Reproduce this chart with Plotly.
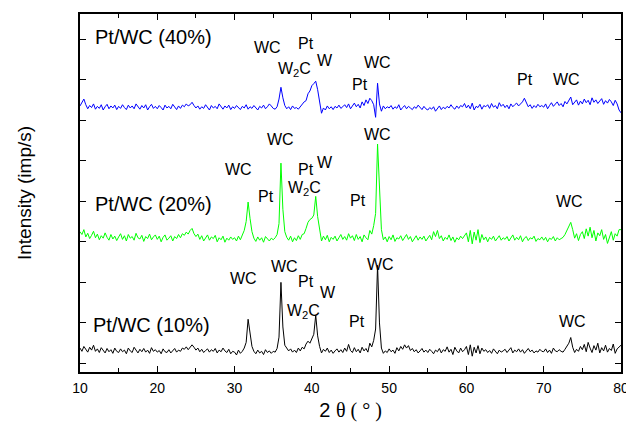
import numpy as np
import plotly.graph_objects as go

# 2-theta grid (degrees), 0.25 deg step
two_theta = np.round(np.arange(10.0, 80.001, 0.25), 2)

# Intensities (imp/s, stacked display)
pt_wc_10 = [
    138, 130, 142, 135, 128, 140, 133, 145, 130, 136, 127, 139, 131, 126, 137, 129, 134, 125, 138, 130,
    127, 136, 129, 133, 124, 138, 131, 127, 140, 132, 126, 135, 129, 137, 128, 133, 125, 139, 130, 134,
    128, 132, 124, 136, 129, 127, 134, 126, 131, 137, 128, 133, 130, 138, 135, 141, 134, 139, 146, 140,
    133, 138, 129, 135, 127, 132, 136, 128, 134, 130, 137, 126, 133, 129, 138, 131, 127, 135, 124, 130,
    128, 121, 133, 125, 130, 138, 152, 209, 168, 142, 130, 124, 133, 126, 130, 122, 134, 127, 131, 125,
    130, 128, 137, 165, 300, 190, 145, 138, 131, 136, 128, 133, 127, 138, 131, 140, 136, 148, 155, 150,
    163, 172, 219, 168, 142, 126, 135, 130, 138, 127, 133, 125, 131, 136, 128, 134, 127, 138, 130, 147,
    132, 127, 139, 129, 135, 126, 140, 131, 137, 128, 150, 141, 157, 185, 342, 200, 138, 125, 131, 127,
    136, 129, 133, 125, 139, 131, 142, 135, 146, 138, 144, 132, 137, 129, 134, 126, 131, 137, 128, 133,
    127, 135, 130, 124, 133, 129, 137, 126, 134, 130, 141, 128, 135, 122, 140, 131, 126, 138, 129, 134,
    142, 122, 146, 118, 140, 126, 144, 124, 138, 130, 134, 127, 132, 125, 136, 129, 124, 133, 128, 131,
    135, 127, 132, 139, 126, 133, 129, 136, 128, 134, 125, 131, 137, 129, 133, 126, 131, 128, 135, 130,
    129, 136, 127, 133, 125, 138, 131, 129, 134, 130, 128, 135, 142, 150, 164, 140, 127, 135, 130, 142,
    134, 147, 129, 152, 138, 127, 144, 133, 150, 126, 139, 131, 145, 128, 137, 132, 148, 125, 136, 141,
    145,
]

pt_wc_20 = [
    425, 418, 430, 412, 421, 408, 416, 426, 410, 419, 405, 415, 409, 422, 411, 404, 418, 407, 414, 403,
    412, 420, 406, 415, 402, 418, 409, 413, 404, 421, 410, 407, 416, 401, 413, 408, 419, 405, 412, 417,
    406, 414, 400, 411, 417, 404, 409, 415, 402, 413, 408, 418, 410, 420, 416, 424, 419, 428, 433, 420,
    413, 419, 406, 415, 402, 411, 417, 404, 412, 408, 416, 400, 410, 405, 414, 399, 409, 404, 412, 406,
    410, 402, 414, 405, 415, 428, 450, 498, 458, 425, 409, 401, 412, 404, 410, 399, 413, 406, 402, 409,
    405, 410, 418, 445, 594, 480, 425, 411, 404, 414, 400, 410, 403, 415, 406, 418, 420, 433, 448, 455,
    458, 466, 512, 462, 426, 402, 414, 405, 416, 400, 411, 406, 414, 402, 410, 418, 406, 413, 404, 420,
    409, 415, 403, 418, 406, 413, 400, 417, 410, 405, 428, 419, 440, 470, 641, 520, 430, 405, 412, 400,
    413, 405, 417, 401, 410, 407, 415, 403, 411, 418, 406, 413, 400, 409, 415, 404, 412, 406, 414, 402,
    410, 416, 405, 425, 413, 428, 408, 415, 402, 411, 406, 417, 403, 412, 399, 410, 405, 414, 408, 416,
    422, 400, 428, 395, 424, 404, 430, 398, 418, 405, 412, 400, 411, 406, 414, 402, 409, 415, 404, 410,
    406, 413, 402, 410, 417, 404, 411, 405, 415, 400, 409, 413, 403, 410, 407, 414, 401, 408, 405, 412,
    404, 411, 400, 409, 406, 413, 402, 410, 405, 408, 411, 418, 428, 440, 448, 430, 409, 420, 403, 418,
    425, 408, 432, 414, 436, 410, 428, 402, 422, 415, 430, 406, 418, 396, 412, 425, 404, 420, 414, 430,
    430,
]

pt_wc_40 = [
    735, 743, 752, 738, 728, 736, 731, 740, 727, 734, 729, 738, 725, 733, 739, 728, 735, 730, 737, 726,
    734, 729, 738, 731, 726, 737, 730, 735, 728, 740, 732, 727, 736, 730, 738, 725, 733, 739, 729, 734,
    728, 736, 731, 725, 737, 730, 734, 728, 739, 731, 726, 735, 729, 737, 733, 740, 735, 738, 744, 736,
    730, 735, 727, 733, 729, 738, 731, 725, 736, 730, 734, 728, 740, 732, 727, 735, 730, 737, 726, 733,
    729, 736, 731, 726, 734, 730, 738, 727, 733, 729, 736, 731, 725, 734, 730, 737, 728, 733, 740, 735,
    729, 727, 733, 752, 781, 755, 736, 728, 733, 726, 735, 729, 731, 727, 734, 738, 745, 748, 765, 772,
    785, 790, 796, 775, 750, 717, 730, 725, 735, 728, 733, 726, 734, 730, 737, 729, 733, 738, 731, 740,
    728, 735, 742, 733, 739, 730, 745, 736, 750, 741, 754, 748, 738, 707, 791, 740, 722, 735, 728, 733,
    730, 736, 727, 733, 729, 738, 725, 731, 736, 728, 734, 730, 726, 733, 729, 737, 731, 726, 734, 728,
    725, 731, 727, 733, 722, 729, 735, 726, 732, 728, 734, 730, 738, 731, 727, 735, 729, 736, 733, 741,
    730, 737, 728, 742, 725, 734, 731, 739, 727, 736, 733, 738, 729, 741, 732, 736, 728, 743, 734, 739,
    731, 737, 728, 740, 733, 738, 742, 735, 740, 745, 754, 741, 733, 738, 729, 736, 731, 739, 733, 736,
    732, 740, 728, 736, 743, 734, 739, 745, 736, 741, 733, 746, 740, 748, 757, 738, 744, 750, 737, 747,
    740, 752, 743, 749, 738, 755, 744, 750, 741, 746, 753, 739, 748, 742, 751, 745, 736, 749, 740, 725,
    718,
]

series_names = ["Pt/WC (10%)", "Pt/WC (20%)", "Pt/WC (40%)"]
series_colors = ["#000000", "#00FF00", "#0000FF"]

# Phase labels: (text, 2theta, intensity)
peak_labels = [
    # 40 %
    ("WC", 34.3, 878), ("Pt", 39.24, 888), ("W<sub>2</sub>C", 37.7, 826), ("W", 41.7, 846),
    ("WC", 48.43, 843), ("Pt", 46.23, 789), ("Pt", 67.58, 801), ("WC", 73.0, 801),
    # 20 %
    ("WC", 30.57, 579), ("WC", 35.88, 653), ("Pt", 34.07, 512), ("Pt", 39.24, 579),
    ("W", 41.7, 596), ("W<sub>2</sub>C", 39.1, 532), ("WC", 48.43, 665), ("Pt", 45.97, 502),
    ("WC", 73.4, 500),
    # 10 %
    ("WC", 31.09, 310), ("WC", 36.52, 340), ("Pt", 39.24, 303), ("W", 42.09, 275),
    ("W<sub>2</sub>C", 38.98, 228), ("WC", 48.94, 344), ("Pt", 45.84, 204), ("WC", 73.66, 204),
]
sample_labels = [
    ("Pt/WC (40%)", 11.68, 905),
    ("Pt/WC (20%)", 11.68, 493),
    ("Pt/WC (10%)", 11.42, 194),
]

fig = go.Figure()
for name, ys, col in zip(series_names, [pt_wc_10, pt_wc_20, pt_wc_40], series_colors):
    fig.add_trace(go.Scatter(x=two_theta, y=ys, mode="lines", name=name,
                             line=dict(color=col, width=1), showlegend=False))

for txt, x, y in peak_labels:
    fig.add_annotation(x=x, y=y, text=txt, showarrow=False,
                       font=dict(family="Liberation Sans, Arial", size=16, color="black"))
for txt, x, y in sample_labels:
    fig.add_annotation(x=x, y=y, text=txt, showarrow=False, xanchor="left",
                       font=dict(family="Liberation Sans, Arial", size=20, color="black"))

fig.update_layout(
    width=626, height=427,
    margin=dict(l=80, r=5, t=14, b=55),
    paper_bgcolor="white", plot_bgcolor="white",
    font=dict(family="Liberation Sans, Arial", color="black"),
)
fig.update_xaxes(
    range=[10, 80], tickmode="linear", tick0=10, dtick=10,
    ticks="inside", ticklen=6, tickwidth=1.2, tickcolor="black",
    minor=dict(dtick=5, ticks="inside", ticklen=4, tickwidth=1.2, tickcolor="black"),
    showline=True, linecolor="black", linewidth=1.5, mirror="ticks",
    showgrid=False, zeroline=False, automargin=False,
    tickfont=dict(size=14), ticklabelstandoff=2, ticklabeloverflow="allow",
    title=dict(text='2 <span style="font-family:Liberation Serif">θ ( ° )</span>',
               font=dict(size=20), standoff=8),
)
fig.update_yaxes(
    range=[79, 961.7], tickmode="linear", tick0=100, dtick=100,
    ticks="inside", ticklen=6, tickwidth=1.2, tickcolor="black",
    showticklabels=False, automargin=False,
    showline=True, linecolor="black", linewidth=1.5, mirror="ticks",
    showgrid=False, zeroline=False,
    title=dict(text="Intensity (imp/s)", font=dict(size=19), standoff=42),
)

fig.write_html("out.html", config={"displayModeBar": False},
               post_script="document.body.style.margin='0';")
